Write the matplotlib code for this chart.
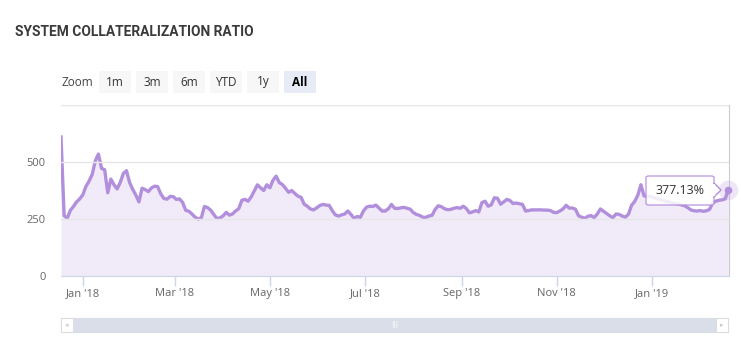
import pandas as pd
import matplotlib
matplotlib.use("Agg")
import matplotlib.pyplot as plt
from matplotlib.patches import Rectangle, FancyBboxPatch, Polygon

# Ratio (%), one reading every 2 days from 18 Dec 2017
start_date = "2017-12-18"
ratio = [
    610, 265, 253, 288, 305, 325, 338, 356, 393, 416,
    445, 505, 535, 472, 466, 365, 425, 400, 382, 410,
    450, 462, 410, 380, 355, 325, 385, 379, 370, 386,
    394, 392, 360, 340, 337, 349, 348, 336, 338, 323,
    288, 284, 272, 258, 250, 255, 305, 300, 289, 270,
    252, 255, 264, 279, 267, 272, 285, 295, 332, 336,
    328, 347, 374, 400, 387, 375, 400, 387, 420, 438,
    410, 401, 385, 367, 375, 362, 350, 345, 315, 306,
    294, 290, 299, 309, 314, 311, 310, 287, 268, 263,
    268, 272, 285, 270, 253, 261, 257, 285, 302, 306,
    305, 311, 298, 285, 285, 295, 314, 297, 296, 299,
    301, 297, 293, 278, 270, 266, 258, 257, 263, 266,
    292, 308, 304, 295, 291, 292, 297, 300, 297, 306,
    296, 277, 281, 287, 281, 322, 328, 306, 312, 343,
    341, 315, 325, 336, 331, 318, 320, 317, 314, 285,
    287, 290, 290, 290, 290, 289, 289, 287, 279, 278,
    285, 294, 310, 298, 298, 293, 264, 258, 253, 262,
    265, 256, 272, 294, 284, 274, 264, 256, 272, 270,
    263, 258, 271, 310, 327, 354, 400, 352, 348, 350,
    344, 340, 336, 332, 328, 325, 320, 318, 316, 312,
    308, 300, 290, 286, 285, 287, 284, 286, 292, 320,
    328, 332, 334, 338, 377.13,
]
dates = pd.date_range(start_date, periods=len(ratio), freq="2D")

tick_dates = pd.to_datetime(["2018-01-01", "2018-03-01", "2018-05-01", "2018-07-01",
                             "2018-09-01", "2018-11-01", "2019-01-01"])
tick_labels = ["Jan '18", "Mar '18", "May '18", "Jul '18", "Sep '18", "Nov '18", "Jan '19"]
y_ticks = [0, 250, 500]
zoom_buttons = ["1m", "3m", "6m", "YTD", "1y", "All"]

W, H = 741, 362
line_col = "#b28fdc"
fill_col = "#f1ebf9"
font = "Open Sans"


def fx(x):
    return x / W


def fy(y):
    return 1 - y / H


fig = plt.figure(figsize=(W / 100, H / 100), dpi=100)
ax = fig.add_axes([fx(61), fy(276), fx(729) - fx(61), fy(105) - fy(276)])

ax.fill_between(dates, ratio, 0, color=fill_col, lw=0)
ax.plot(dates, ratio, color=line_col, lw=2.4, solid_joinstyle="round")

ax.set_xlim(dates[0], dates[-1] + pd.Timedelta(days=0.5))
ax.set_ylim(0, 750)
ax.set_yticks([0, 250, 500, 750])
ax.set_yticklabels([str(v) for v in y_ticks] + [""])
ax.grid(axis="y", color="#e6e6e6", lw=1)
ax.set_axisbelow(False)
ax.set_xticks(tick_dates)
ax.set_xticklabels(tick_labels)

for s in ["top", "left"]:
    ax.spines[s].set_visible(False)
ax.spines["right"].set_color("#cccccc")
ax.spines["bottom"].set_color("#ccd6eb")
ax.tick_params(axis="y", length=0, pad=11, labelsize=8, labelcolor="#666666")
ax.tick_params(axis="x", length=7, width=1, color="#ccd6eb", pad=1.5,
               labelsize=8, labelcolor="#666666")
for lab in ax.get_xticklabels() + ax.get_yticklabels():
    lab.set_family(font)

# last point marker with halo
ax.scatter([dates[-1]], [ratio[-1]], s=200, color=line_col, alpha=0.22, lw=0,
           clip_on=False, zorder=5)
ax.scatter([dates[-1]], [ratio[-1]], s=30, color=line_col, lw=0, clip_on=False, zorder=6)

# tooltip
tip = FancyBboxPatch((fx(646), fy(205)), fx(714) - fx(646), fy(176) - fy(205),
                     boxstyle="round,pad=0,rounding_size=0.004",
                     transform=fig.transFigure, facecolor="white", alpha=0.85,
                     edgecolor=line_col, lw=1, zorder=10)
fig.patches.append(tip)
arrow = Polygon([[fx(714), fy(183)], [fx(721), fy(190)], [fx(714), fy(197)]],
                closed=True, transform=fig.transFigure, facecolor="white",
                edgecolor=line_col, lw=1, zorder=10)
fig.patches.append(arrow)
fig.patches.append(Rectangle((fx(712), fy(196)), fx(714.5) - fx(712), fy(184) - fy(196),
                             transform=fig.transFigure, facecolor="white", lw=0, zorder=11))
fig.text(fx(680), fy(190.5), "%.2f%%" % ratio[-1], ha="center", va="center",
         fontsize=9, color="#333333", family=font, zorder=12)

# title
fig.text(fx(15), fy(32), "SYSTEM COLLATERALIZATION RATIO", ha="left", va="center",
         fontsize=9.9, fontweight="bold", color="#3a3a3a", family="Roboto")

# range selector
fig.text(fx(61), fy(82), "Zoom", ha="left", va="center", fontsize=8.5,
         color="#444444", family=font)
for i, name in enumerate(zoom_buttons):
    x0 = 99 + i * 37
    sel = name == "All"
    fig.patches.append(Rectangle((fx(x0), fy(93)), fx(32), 22 / H,
                                 transform=fig.transFigure,
                                 facecolor="#e6ebf5" if sel else "#f7f7f7", lw=0))
    fig.text(fx(x0 + 16), fy(82), name, ha="center", va="center", fontsize=8.5,
             color="#000000" if sel else "#333333",
             fontweight="bold" if sel else "normal", family=font)

# scrollbar
fig.patches.append(Rectangle((fx(61), fy(332)), fx(728) - fx(61), 14 / H,
                             transform=fig.transFigure, facecolor="#f2f2f2",
                             edgecolor="#dddddd", lw=0.8))
fig.patches.append(Rectangle((fx(74), fy(332)), fx(716) - fx(74), 14 / H,
                             transform=fig.transFigure, facecolor="#d9dee8",
                             edgecolor="#d9dee8", lw=0.5))
for xb in (61, 716):
    fig.patches.append(Rectangle((fx(xb), fy(332)), fx(12), 14 / H,
                                 transform=fig.transFigure, facecolor="white",
                                 edgecolor="#dddddd", lw=0.8))
fig.text(fx(67), fy(325), "◂", ha="center", va="center", fontsize=5, color="#cccccc")
fig.text(fx(722), fy(325), "▸", ha="center", va="center", fontsize=5, color="#cccccc")
fig.text(fx(395), fy(325), "|||", ha="center", va="center", fontsize=5, color="#ffffff")

fig.savefig("out.png", dpi=100, facecolor="white")
